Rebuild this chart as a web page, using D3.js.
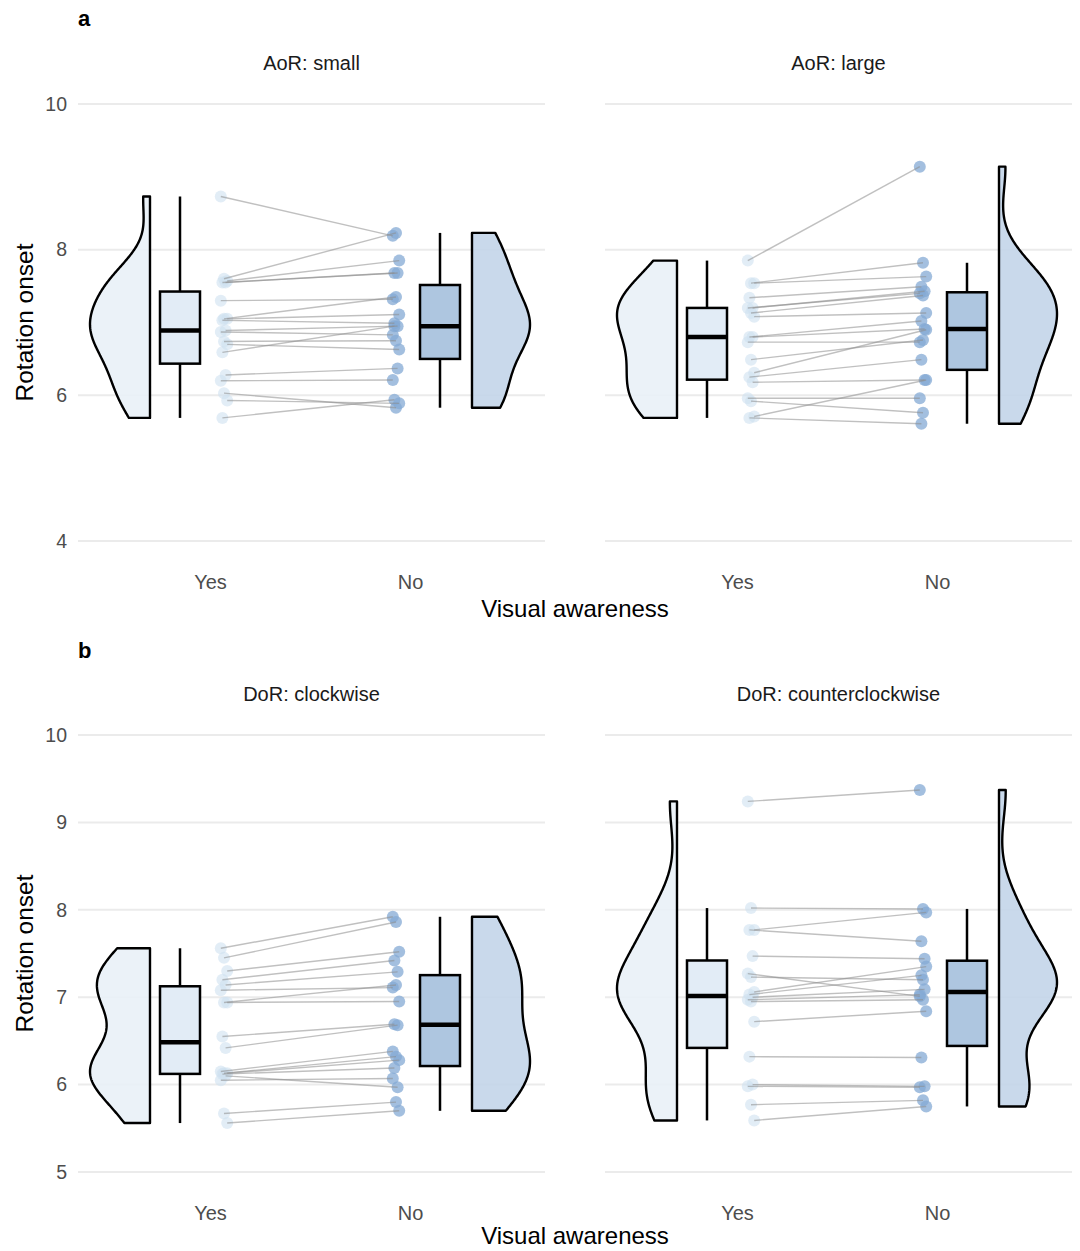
<!DOCTYPE html>
<html>
<head>
<meta charset="utf-8">
<script src="https://cdn.jsdelivr.net/npm/d3@7"></script>
<style>
  html, body { margin: 0; padding: 0; background: #ffffff; }
  svg { display: block; font-family: "Liberation Sans", Arial, Helvetica, sans-serif; }
</style>
</head>
<body>
<svg id="chart" width="1080" height="1251"></svg>
<script>
// ---------- data (paired: index i in Yes matches index i in No) ----------
const categories = ["Yes", "No"];

const panelLabels = ["a", "b"];
const facetLabelsA = ["AoR: small", "AoR: large"];
const facetLabelsB = ["DoR: clockwise", "DoR: counterclockwise"];
const yTicksA = [4, 6, 8, 10];
const yTicksB = [5, 6, 7, 8, 9, 10];
const yTitle = "Rotation onset";
const xTitle = "Visual awareness";

const aSmallYes = [8.73, 7.60, 7.57, 7.55, 7.55, 7.30, 7.05, 7.05, 7.03, 6.89, 6.87, 6.74, 6.70, 6.59, 6.28, 6.20, 6.03, 5.93, 5.69];
const aSmallNo  = [8.19, 8.23, 7.85, 7.68, 7.68, 7.32, 7.35, 7.11, 6.99, 6.95, 6.83, 6.75, 6.63, 6.95, 6.37, 6.21, 5.83, 5.89, 5.94];

const aLargeYes = [7.85, 7.54, 7.54, 7.34, 7.20, 7.20, 7.13, 7.08, 6.80, 6.80, 6.73, 6.49, 6.31, 6.25, 6.18, 5.96, 5.92, 5.71, 5.69];
const aLargeNo  = [9.14, 7.82, 7.63, 7.49, 7.43, 7.40, 7.37, 7.13, 7.02, 6.91, 6.73, 6.76, 6.90, 6.49, 6.21, 5.96, 5.76, 6.21, 5.61];

const bCwYes = [7.56, 7.45, 7.30, 7.20, 7.14, 7.08, 6.94, 6.94, 6.55, 6.42, 6.15, 6.13, 6.13, 6.12, 6.10, 6.05, 5.67, 5.56];
const bCwNo  = [7.92, 7.86, 7.52, 7.42, 7.29, 7.11, 7.14, 6.95, 6.69, 6.68, 6.38, 6.32, 6.28, 6.19, 5.97, 6.07, 5.80, 5.70];

const bCcwYes = [9.24, 8.02, 7.77, 7.77, 7.47, 7.27, 7.23, 7.06, 7.03, 7.00, 6.97, 6.95, 6.72, 6.32, 6.00, 5.98, 5.77, 5.59];
const bCcwNo  = [9.37, 8.01, 7.97, 7.64, 7.44, 7.01, 7.20, 7.35, 7.25, 7.09, 7.03, 6.97, 6.84, 6.31, 5.98, 5.97, 5.82, 5.75];

// ---------- styles ----------
const fillViolin = { Yes: "#e9f1f7", No: "#c3d5e9" };
const fillBox    = { Yes: "#e2ecf6", No: "#aec6e0" };
const fillPoint  = { Yes: "#cfe1f0", No: "#84a9d4" };
const gridColor = "#ebebeb";
const tickColor = "#4d4d4d";

const svg = d3.select("#chart");

// panel geometry
const panelX = [[78, 545], [605, 1072]];
const rows = [
  { label: panelLabels[0], labelY: 26, stripY: 70, yRange: [541, 104], ticks: yTicksA, yDomain: [4, 10],
    xTickY: 589, xTitleY: 617, facets: facetLabelsA, data: [[aSmallYes, aSmallNo], [aLargeYes, aLargeNo]] },
  { label: panelLabels[1], labelY: 658, stripY: 701, yRange: [1172, 735], ticks: yTicksB, yDomain: [5, 10],
    xTickY: 1220, xTitleY: 1244, facets: facetLabelsB, data: [[bCwYes, bCwNo], [bCcwYes, bCcwNo]] }
];

function nrd0(v) {
  const n = v.length;
  const sd = d3.deviation(v);
  const s = [...v].sort(d3.ascending);
  const iqr = d3.quantileSorted(s, 0.75) - d3.quantileSorted(s, 0.25);
  let lo = Math.min(sd, iqr / 1.34);
  if (!(lo > 0)) lo = sd || 1;
  return 0.9 * lo * Math.pow(n, -0.2);
}
function kde(v, m = 240) {
  const bw = nrd0(v);
  const mn = d3.min(v), mx = d3.max(v);
  const out = [];
  for (let k = 0; k <= m; k++) {
    const y = mn + (mx - mn) * k / m;
    let s = 0;
    for (const x of v) { const z = (y - x) / bw; s += Math.exp(-0.5 * z * z); }
    out.push({ y, d: s / (v.length * bw * Math.sqrt(2 * Math.PI)) });
  }
  return out;
}
function boxStats(v) {
  const s = [...v].sort(d3.ascending);
  const q1 = d3.quantileSorted(s, 0.25), med = d3.quantileSorted(s, 0.5), q3 = d3.quantileSorted(s, 0.75);
  const iqr = q3 - q1;
  const lo = d3.min(s.filter(x => x >= q1 - 1.5 * iqr));
  const hi = d3.max(s.filter(x => x <= q3 + 1.5 * iqr));
  return { q1, med, q3, lo, hi };
}

rows.forEach((row) => {
  const y = d3.scaleLinear().domain(row.yDomain).range(row.yRange);

  // panel letter
  svg.append("text").attr("x", 78).attr("y", row.labelY)
    .attr("font-size", 22).attr("font-weight", "bold").attr("fill", "#000").text(row.label);

  // y title
  const midY = (row.yRange[0] + row.yRange[1]) / 2;
  svg.append("text").attr("transform", `translate(33,${midY}) rotate(-90)`)
    .attr("text-anchor", "middle").attr("font-size", 24.5).attr("fill", "#000").text(yTitle);

  // x title
  svg.append("text").attr("x", (panelX[0][0] + panelX[1][1]) / 2).attr("y", row.xTitleY)
    .attr("text-anchor", "middle").attr("font-size", 24).attr("fill", "#000").text(xTitle);

  panelX.forEach((px, fi) => {
    const x = d3.scaleLinear().domain([0.34, 2.675]).range(px);
    const g = svg.append("g");

    // strip label
    g.append("text").attr("x", (px[0] + px[1]) / 2).attr("y", row.stripY)
      .attr("text-anchor", "middle").attr("font-size", 20).attr("fill", "#1a1a1a").text(row.facets[fi]);

    // grid lines
    g.selectAll("line.grid").data(row.ticks).join("line")
      .attr("x1", px[0]).attr("x2", px[1])
      .attr("y1", d => y(d)).attr("y2", d => y(d))
      .attr("stroke", gridColor).attr("stroke-width", 2);

    // y tick labels only on left facet
    if (fi === 0) {
      const yAxis = d3.axisLeft(y).tickValues(row.ticks).tickSize(0).tickPadding(0).tickFormat(d3.format("d"));
      const ax = g.append("g").attr("transform", `translate(67,0)`).call(yAxis);
      ax.select(".domain").remove();
      ax.selectAll("text").attr("font-size", 19.5).attr("fill", tickColor)
        .attr("font-family", "Liberation Sans, Arial, sans-serif");
    }

    // x tick labels
    const xAxis = d3.axisBottom(x).tickValues([1, 2]).tickSize(0).tickPadding(0)
      .tickFormat(d => categories[d - 1]);
    const xa = g.append("g").attr("transform", `translate(0,${row.xTickY})`).call(xAxis);
    xa.select(".domain").remove();
    xa.selectAll("text").attr("font-size", 20).attr("fill", tickColor).attr("dy", 0)
      .attr("font-family", "Liberation Sans, Arial, sans-serif");

    const [yesV, noV] = row.data[fi];
    const groups = [
      { key: "Yes", v: yesV, pos: 1, side: -1, vEdge: 1 - 0.30, boxC: 1 - 0.15, ptX: 1 + 0.07 },
      { key: "No",  v: noV,  pos: 2, side: 1,  vEdge: 2 + 0.31, boxC: 2 + 0.15, ptX: 2 - 0.07 }
    ];
    const unit = x(1) - x(0);
    const vWidth = { Yes: 60, No: 58 };

    // violins
    groups.forEach(gr => {
      const dens = kde(gr.v);
      const dmax = d3.max(dens, d => d.d);
      const edge = x(gr.vEdge);
      const area = d3.area()
        .y(d => y(d.y))
        .x0(edge)
        .x1(d => edge + gr.side * d.d / dmax * vWidth[gr.key])
        .curve(d3.curveLinear);
      g.append("path").datum(dens).attr("d", area)
        .attr("fill", fillViolin[gr.key]).attr("fill-opacity", 0.9)
        .attr("stroke", "#000").attr("stroke-width", 2.4).attr("stroke-linejoin", "round");
    });

    // boxplots
    groups.forEach(gr => {
      const st = boxStats(gr.v);
      const cx = x(gr.boxC);
      const hw = 0.1 * unit;
      g.append("line").attr("x1", cx).attr("x2", cx).attr("y1", y(st.q3)).attr("y2", y(st.hi))
        .attr("stroke", "#000").attr("stroke-width", 2.5);
      g.append("line").attr("x1", cx).attr("x2", cx).attr("y1", y(st.q1)).attr("y2", y(st.lo))
        .attr("stroke", "#000").attr("stroke-width", 2.5);
      g.append("rect").attr("x", cx - hw).attr("width", 2 * hw)
        .attr("y", y(st.q3)).attr("height", y(st.q1) - y(st.q3))
        .attr("fill", fillBox[gr.key]).attr("stroke", "#000").attr("stroke-width", 2.5);
      g.append("line").attr("x1", cx - hw).attr("x2", cx + hw).attr("y1", y(st.med)).attr("y2", y(st.med))
        .attr("stroke", "#000").attr("stroke-width", 4.5);
    });

    // points
    const jit = i => ((i * 7) % 5 - 2) * 1.6;
    groups.forEach(gr => {
      g.selectAll(null).data(gr.v).join("circle")
        .attr("cx", (d, i) => x(gr.ptX) + jit(i))
        .attr("cy", d => y(d))
        .attr("r", 6)
        .attr("fill", fillPoint[gr.key])
        .attr("fill-opacity", gr.key === "Yes" ? 0.6 : 0.75);
    });

    // connecting lines
    const pairs = yesV.map((v, i) => ({ a: v, b: noV[i], i }));
    g.selectAll(null).data(pairs).join("line")
      .attr("x1", d => x(groups[0].ptX) + jit(d.i)).attr("y1", d => y(d.a))
      .attr("x2", d => x(groups[1].ptX) + jit(d.i)).attr("y2", d => y(d.b))
      .attr("stroke", "#8c8c8c").attr("stroke-opacity", 0.55).attr("stroke-width", 1.4);
  });
});
</script>
</body>
</html>
